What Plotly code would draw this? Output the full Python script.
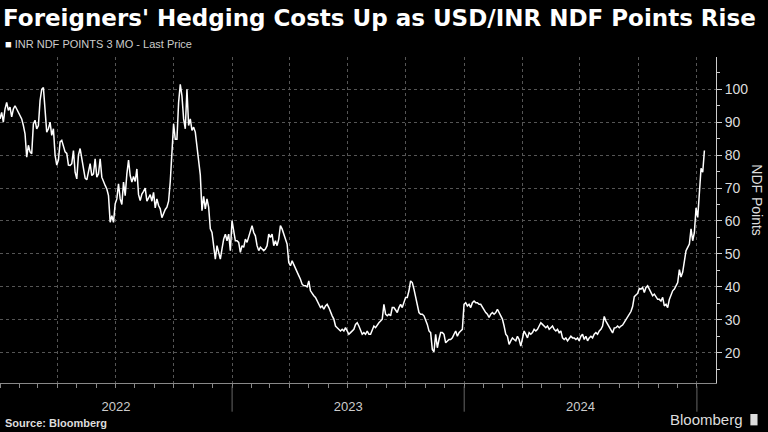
import pandas as pd
import plotly.graph_objects as go

# INR NDF points 3M at a regular sampling step (~2.6 days)
ndf_part1 = [91, 93, 90, 94, 96, 93.6, 94.6, 91.6, 94, 95, 94, 93, 92.5, 91, 89, 86.5, 79.4, 83, 81, 80.4,
             89.5, 90.6, 88, 89, 96.6, 100, 100.5, 94, 87, 88, 90, 86, 88, 80, 77, 78.5, 84, 84.5, 83, 81,
             80.5, 77, 76.9, 77.4, 81.4, 74.8, 72.8, 80, 82, 79, 76, 73, 72.5, 74.8, 77.4, 73.8, 74.3, 78.9,
             73.3, 74.3, 78.9, 73.3, 72.3, 70.8, 69.7, 67.7, 59.6, 61.6, 59.6, 65.2, 66.7]
ndf_part2 = [71.3, 66.7, 65, 71.8, 67.7, 74.3, 78.5, 73.8, 71.8, 73.5, 72, 75.8, 68, 66.2, 68.2, 69, 70, 66,
             67, 68, 66, 68.7, 64, 66.7, 64.7, 63.7, 61, 62.6, 63.5, 64.2, 66, 72, 80, 89.5, 84.8, 84.8, 96,
             101.5, 98, 91, 88, 100, 89, 91, 87.5, 88.5, 87, 82, 78, 74, 63.1, 67.5, 63.7, 66.7, 64.2, 57.6,
             56.5, 52.5, 48.4, 52.5, 50.5, 48.4, 51.5, 54.5, 56, 54, 56, 51, 60.1, 57.6, 54]
ndf_part3 = [54, 53.5, 50.5, 52.5, 52, 54.5, 53.5, 55.5, 57, 58.6, 56.5, 55.5, 52.5, 51, 52, 51.5, 51, 51.5,
             52.5, 56, 55, 56, 52.5, 54, 52.5, 54.5, 58.6, 57.6, 56, 55, 53, 47.4, 46.4, 47.9, 46.9, 45.9,
             44.9, 43.4, 42.3, 40.8, 40.3, 40.3, 40, 41.8, 38.8, 37.8, 37.3, 36.8, 35.7, 34.7, 33.7, 34.2,
             33.2, 34.2, 34.7, 33.7, 32.2, 31.2, 30.2, 28.1, 27.6, 27.1, 26.6, 27.1, 26.6, 27.6, 26.6, 25.6,
             26.1, 26.6, 27.1]
ndf_part4 = [28.6, 29.1, 28.1, 26.6, 25.6, 26.1, 25.6, 26.6, 25.6, 25.6, 26.6, 28.1, 27.6, 28.6, 29.1, 29.6,
             30.2, 34.7, 31.7, 31.2, 31.7, 31.2, 33.7, 33.7, 32.7, 32.2, 33.7, 34.7, 33.7, 35.2, 36.8, 36.8,
             38.8, 41.8, 41.3, 39.3, 37, 35.2, 32.2, 31.7, 31.7, 31.2, 30, 28.6, 26.6, 26.1, 21, 20.3, 25.6,
             21.5, 24, 26.1, 26.1, 25.6, 23, 23.6, 24, 24, 24.5, 25.6, 26.6, 25, 26.1, 26.6, 27.1, 34.7, 35.2,
             34.2, 34.7, 33.7, 35.2]
ndf_part5 = [35.7, 35.2, 35.2, 34.7, 34.7, 33.7, 32.7, 32.2, 31.7, 30.7, 31.7, 32.2, 31.7, 32.2, 33.2, 32.2,
             31.2, 30.2, 28.1, 25.6, 25, 22.5, 23.6, 24.5, 24, 23.6, 25, 24, 22, 24.5, 26.6, 25.6, 24.5, 26.1,
             25.6, 26.1, 27.1, 26.6, 27.1, 28.1, 29.1, 28.6, 28.1, 27.6, 28.1, 27.1, 27.6, 28.1, 27.1, 26.6,
             27.1, 26.1, 26.6, 24.5, 24, 24.5, 23.6, 24.5, 25, 24.5, 24.5, 24, 24.5, 23.6, 25, 25.6, 24, 25,
             23.6, 24.5, 25]
ndf_part6 = [24.5, 25.6, 26.1, 25.6, 26.6, 27.1, 28.1, 31, 29.6, 28.6, 27.6, 27.1, 26, 27.5, 27.6, 28.1,
             27.6, 28.1, 28.4, 29.2, 30, 31.2, 32, 32.5, 34, 37, 37.5, 38, 39.5, 39.3, 39.8, 38.3, 39.8, 40.3,
             39.3, 38.3, 37.3, 37.8, 36.8, 36.2, 36.2, 35.7, 36.8, 34.2, 34.7, 33.7, 36.2, 37.8, 38.8, 39.3,
             40.3, 41.3, 45.2, 43, 44.5, 47.5, 51, 52, 53, 57.6, 54, 56.5, 64, 61.1, 69.5, 76, 74.8, 81.4]

ndf_values = ndf_part1 + ndf_part2 + ndf_part3 + ndf_part4 + ndf_part5 + ndf_part6
ndf_dates = pd.date_range("2022-01-01", periods=len(ndf_values), freq="63h")

year_starts = ["2023-01-01", "2024-01-01", "2025-01-01"]
x_range = ["2022-01-01", "2025-01-31"]

fig = go.Figure()
fig.add_trace(
    go.Scatter(
        x=ndf_dates,
        y=ndf_values,
        mode="lines",
        line=dict(color="white", width=1.5),
        showlegend=False,
    )
)
# invisible trace so the year-label axis is drawn
fig.add_trace(go.Scatter(x=[ndf_dates[0]], y=[None], xaxis="x2", showlegend=False, hoverinfo="skip"))

fig.update_layout(
    width=768,
    height=432,
    paper_bgcolor="black",
    plot_bgcolor="black",
    margin=dict(l=0, r=52, t=57, b=49),
    font=dict(family="Liberation Sans", color="#dddddd"),
    title=dict(
        text="<b>Foreigners' Hedging Costs Up as USD/INR NDF Points Rise</b>",
        font=dict(size=23, color="white", family="DejaVu Sans"),
        xref="container", x=0.004, xanchor="left",
        yref="container", y=0.958, yanchor="middle",
    ),
    showlegend=False,
)

fig.update_xaxes(
    range=x_range,
    tick0="2022-01-01",
    dtick="M3",
    showticklabels=False,
    showgrid=True,
    gridcolor="#555555",
    griddash="dot",
    gridwidth=1,
    showline=True,
    linecolor="#888888",
    ticks="outside",
    ticklen=4,
    tickcolor="#888888",
    minor=dict(dtick="M1", ticks="outside", ticklen=4, tickcolor="#888888", showgrid=False),
    zeroline=False,
)

fig.update_layout(
    xaxis2=dict(
        overlaying="x",
        matches="x",
        side="bottom",
        anchor="y",
        range=x_range,
        tick0="2022-01-01",
        dtick="M12",
        tickformat="%Y",
        ticklabelmode="period",
        ticks="",
        showgrid=False,
        showline=False,
        zeroline=False,
        ticklabelstandoff=14,
        tickfont=dict(size=13, color="#cccccc"),
    )
)

fig.update_yaxes(
    side="right",
    range=[10.8, 109.8],
    tick0=0,
    dtick=10,
    showgrid=True,
    gridcolor="#555555",
    griddash="dot",
    showline=True,
    linecolor="#cccccc",
    ticks="outside",
    ticklen=5,
    tickcolor="#cccccc",
    minor=dict(dtick=5, ticks="outside", ticklen=3, tickcolor="#cccccc", showgrid=False),
    tickfont=dict(size=14, color="#dddddd"),
    zeroline=False,
)

# year separators under the axis
for ys in year_starts:
    fig.add_shape(type="line", xref="x", yref="paper", x0=ys, x1=ys, y0=-0.01, y1=-0.088,
                  line=dict(color="#666666", width=1))

fig.add_annotation(
    text="<span style='color:white'>■</span> INR NDF POINTS 3 MO - Last Price",
    xref="paper", yref="paper", x=0.004, y=1.04, xanchor="left", yanchor="middle",
    showarrow=False, font=dict(size=11, color="#cccccc"),
)
fig.add_annotation(
    text="NDF Points", textangle=90,
    xref="paper", yref="paper", x=1.057, y=0.561, xanchor="center", yanchor="middle",
    showarrow=False, font=dict(size=14, color="#dddddd"),
)
fig.add_annotation(
    text="<b>Source: Bloomberg</b>",
    xref="paper", yref="paper", x=0.004, y=-0.123, xanchor="left", yanchor="middle",
    showarrow=False, font=dict(size=11, color="#dddddd"),
)
fig.add_annotation(
    text="Bloomberg",
    xref="paper", yref="paper", x=1.04, y=-0.113, xanchor="right", yanchor="middle",
    showarrow=False, font=dict(size=15, color="#dddddd"),
)
fig.add_shape(type="rect", xref="paper", yref="paper", x0=1.048, x1=1.058, y0=-0.095, y1=-0.13,
              fillcolor="#dddddd", line=dict(width=0))

fig.write_html("out.html", config={"displayModeBar": False},
               post_script="document.body.style.margin='0px';")
